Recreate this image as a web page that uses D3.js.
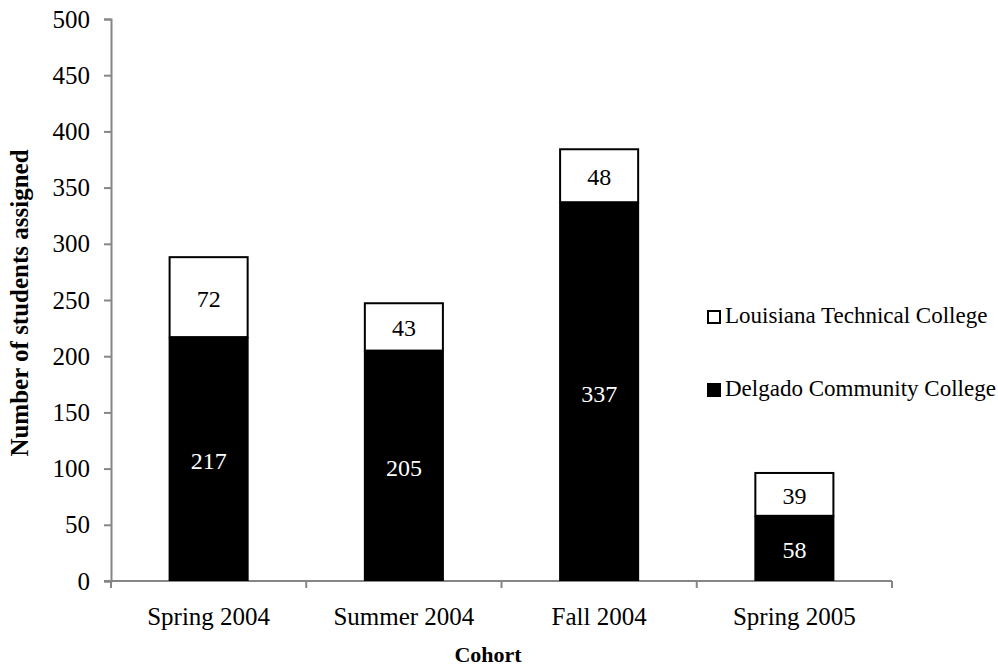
<!DOCTYPE html>
<html>
<head>
<meta charset="utf-8">
<script src="https://cdn.jsdelivr.net/npm/d3@7"></script>
<style>
  body { margin: 0; background: #fff; }
  text { font-family: "Liberation Serif", "Times New Roman", serif; fill: #000; }
</style>
</head>
<body>
<script>
// chart data
var cohorts = ["Spring 2004", "Summer 2004", "Fall 2004", "Spring 2005"];
var delgado = [217, 205, 337, 58];
var louisiana = [72, 43, 48, 39];
var yTicks = [0, 50, 100, 150, 200, 250, 300, 350, 400, 450, 500];

var width = 998, height = 667;
var margin = {top: 19, right: 106, bottom: 86, left: 111};

var svg = d3.select("body").append("svg")
    .attr("width", width)
    .attr("height", height);

var x = d3.scaleBand()
    .domain(cohorts)
    .range([margin.left, width - margin.right])
    .paddingInner(0.59)
    .paddingOuter(0.295);

var y = d3.scaleLinear()
    .domain([0, 500])
    .range([height - margin.bottom, margin.top]);

var axisColor = "#868686";

// y axis
var yAxis = svg.append("g")
    .attr("transform", "translate(" + margin.left + ",0)")
    .call(d3.axisLeft(y).tickValues(yTicks).tickSize(7).tickPadding(14));
yAxis.select(".domain").attr("stroke", axisColor).attr("stroke-width", 2);
yAxis.selectAll(".tick line").attr("stroke", axisColor).attr("stroke-width", 2);
yAxis.selectAll(".tick text")
    .attr("font-family", "Liberation Serif")
    .attr("font-size", 25)
    .attr("fill", "#000");

// x axis: ticks at category boundaries
var boundaries = [margin.left].concat(cohorts.map(function(c) {
    return x(c) + x.bandwidth() / 2 + x.step() / 2;
}));
var xg = svg.append("g");
xg.append("line")
    .attr("x1", margin.left - 7).attr("x2", width - margin.right)
    .attr("y1", y(0)).attr("y2", y(0))
    .attr("stroke", axisColor).attr("stroke-width", 2);
xg.selectAll(".bt")
    .data(boundaries)
    .enter().append("line")
    .attr("x1", function(d) { return d; })
    .attr("x2", function(d) { return d; })
    .attr("y1", y(0))
    .attr("y2", y(0) + 7)
    .attr("stroke", axisColor).attr("stroke-width", 2);
xg.selectAll(".xl")
    .data(cohorts)
    .enter().append("text")
    .attr("x", function(d) { return x(d) + x.bandwidth() / 2; })
    .attr("y", y(0) + 44)
    .attr("text-anchor", "middle")
    .attr("font-size", 25)
    .text(function(d) { return d; });

// bars: Delgado (black) bottom, Louisiana (white) top
var bars = svg.append("g");
bars.selectAll(".dcc")
    .data(cohorts)
    .enter().append("rect")
    .attr("x", function(d) { return x(d); })
    .attr("width", x.bandwidth())
    .attr("y", function(d, i) { return y(delgado[i]); })
    .attr("height", function(d, i) { return y(0) - y(delgado[i]); })
    .attr("fill", "#000");

bars.selectAll(".ltc")
    .data(cohorts)
    .enter().append("rect")
    .attr("x", function(d) { return x(d) + 1; })
    .attr("width", x.bandwidth() - 2)
    .attr("y", function(d, i) { return y(delgado[i] + louisiana[i]) + 1; })
    .attr("height", function(d, i) { return y(delgado[i]) - y(delgado[i] + louisiana[i]) - 1; })
    .attr("fill", "#fff")
    .attr("stroke", "#000")
    .attr("stroke-width", 2);

// value labels
bars.selectAll(".dl")
    .data(cohorts)
    .enter().append("text")
    .attr("x", function(d) { return x(d) + x.bandwidth() / 2; })
    .attr("y", function(d, i) { return (y(0) + y(delgado[i])) / 2; })
    .attr("dy", "0.42em")
    .attr("text-anchor", "middle")
    .attr("font-size", 24)
    .style("fill", "#fff")
    .text(function(d, i) { return delgado[i]; });

bars.selectAll(".ll")
    .data(cohorts)
    .enter().append("text")
    .attr("x", function(d) { return x(d) + x.bandwidth() / 2; })
    .attr("y", function(d, i) { return (y(delgado[i]) + y(delgado[i] + louisiana[i])) / 2; })
    .attr("dy", "0.42em")
    .attr("text-anchor", "middle")
    .attr("font-size", 24)
    .text(function(d, i) { return louisiana[i]; });

// legend
var legendItems = [
    {name: "Louisiana Technical College", fill: "#fff", y: 323},
    {name: "Delgado Community College", fill: "#000", y: 396}
];
var legend = svg.append("g");
legend.selectAll("rect")
    .data(legendItems)
    .enter().append("rect")
    .attr("x", 708)
    .attr("y", function(d) { return d.y - 12; })
    .attr("width", 12)
    .attr("height", 12)
    .attr("fill", function(d) { return d.fill; })
    .attr("stroke", "#000")
    .attr("stroke-width", 2);
legend.selectAll("text")
    .data(legendItems)
    .enter().append("text")
    .attr("x", 725)
    .attr("y", function(d) { return d.y; })
    .attr("font-size", 23)
    .text(function(d) { return d.name; });

// axis titles
svg.append("text")
    .attr("x", 488)
    .attr("y", 662)
    .attr("text-anchor", "middle")
    .attr("font-size", 22)
    .attr("font-weight", "bold")
    .text("Cohort");

svg.append("text")
    .attr("transform", "translate(28,303) rotate(-90)")
    .attr("text-anchor", "middle")
    .attr("font-size", 25)
    .attr("font-weight", "bold")
    .text("Number of students assigned");
</script>
</body>
</html>
